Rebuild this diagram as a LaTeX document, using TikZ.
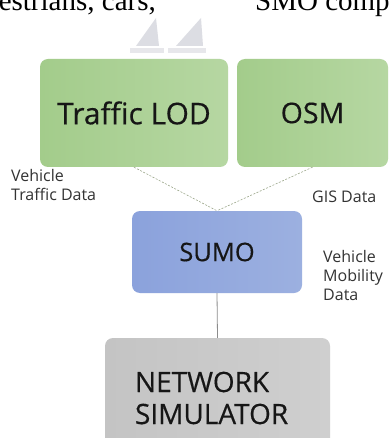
\documentclass[tikz,border=0pt]{standalone}
\usepackage{fontspec}
\setmainfont{Liberation Serif}
\newfontfamily\osans{Open Sans}
\newfontfamily\osansb[FakeBold=0.4]{Open Sans}
\usetikzlibrary{positioning}
\definecolor{gL}{HTML}{A3CC8B}
\definecolor{gR}{HTML}{B6D7A2}
\definecolor{bL}{HTML}{8BA2DC}
\definecolor{bR}{HTML}{9CB0E0}
\definecolor{nL}{HTML}{C4C4C4}
\definecolor{nR}{HTML}{CFCFCF}
\definecolor{lbl}{HTML}{161616}
\definecolor{small}{HTML}{333333}
\definecolor{dashc}{HTML}{9DA88C}
\definecolor{logo}{HTML}{DCDDE3}
\tikzset{
  box/.style={rounded corners=8pt, inner sep=0pt, draw=none, text=lbl},
  greenbox/.style={box, left color=gL, right color=gR},
  bluebox/.style={box, left color=bL, right color=bR},
  graybox/.style={box, left color=nL, right color=nR},
  smalltext/.style={inner sep=0pt, align=left, text=small, font=\osans\fontsize{16}{19}\selectfont},
  dashlink/.style={draw=dashc, line width=0.6pt, dash pattern=on 2pt off 1.5pt},
  solidlink/.style={draw=black!45, line width=0.8pt},
}
\begin{document}
\begin{tikzpicture}[x=1pt, y=-1pt]
\useasboundingbox (0,0) rectangle (390,438);
\clip (0,0) rectangle (390,438);
\fill[white] (0,0) rectangle (390,438);
% top cropped text
\node[inner sep=0pt, anchor=base east, font=\fontsize{29}{29}\selectfont] (t1) at (156,11) {estrians, cars,};
\node[inner sep=0pt, anchor=base west, font=\fontsize{29}{29}\selectfont] (t2) at (255,11) {SMO comp};
% faint logo
\fill[logo] (136,46) -- (156,18) -- (159,46) -- cycle;
\fill[logo] (176,46) -- (201,18) -- (203,46) -- cycle;
\fill[logo!70] (130,48) rectangle (164,53);
\fill[logo!70] (168,48) rectangle (206,53);
% boxes
\node[greenbox, minimum width=188pt, minimum height=108pt, font=\osansb\fontsize{30}{30}\selectfont] (tlod) at (134,113) {\raisebox{-3pt}{Traffic LOD}};
\node[greenbox, minimum width=151pt, minimum height=108pt, font=\osansb\fontsize{28.5}{28.5}\selectfont] (osm) at (312.5,113) {\raisebox{-6pt}{OSM}};
\node[bluebox, minimum width=170pt, minimum height=82pt, font=\osansb\fontsize{25.5}{25.5}\selectfont] (sumo) at (217,252) {\raisebox{-5pt}{SUMO}};
\node[graybox, minimum width=225pt, minimum height=120pt, text width=165pt, align=left, font=\osansb\fontsize{28}{32}\selectfont] (net) at (217.5,398) {NETWORK\\SIMULATOR};
% connectors
\draw[dashlink] (tlod.south) -- (sumo.north);
\draw[dashlink] (osm.south) -- (sumo.north);
\draw[solidlink] (sumo.south) -- (net.north);
% labels
\node[smalltext, anchor=base west] (vtd) at (11,200.5) {Vehicle\\Traffic Data};
\node[smalltext, anchor=base west] (gis) at (312,202.5) {GIS Data};
\node[smalltext, anchor=base west] (vmd) at (323,300.5) {Vehicle\\Mobility\\Data};
\end{tikzpicture}
\end{document}
